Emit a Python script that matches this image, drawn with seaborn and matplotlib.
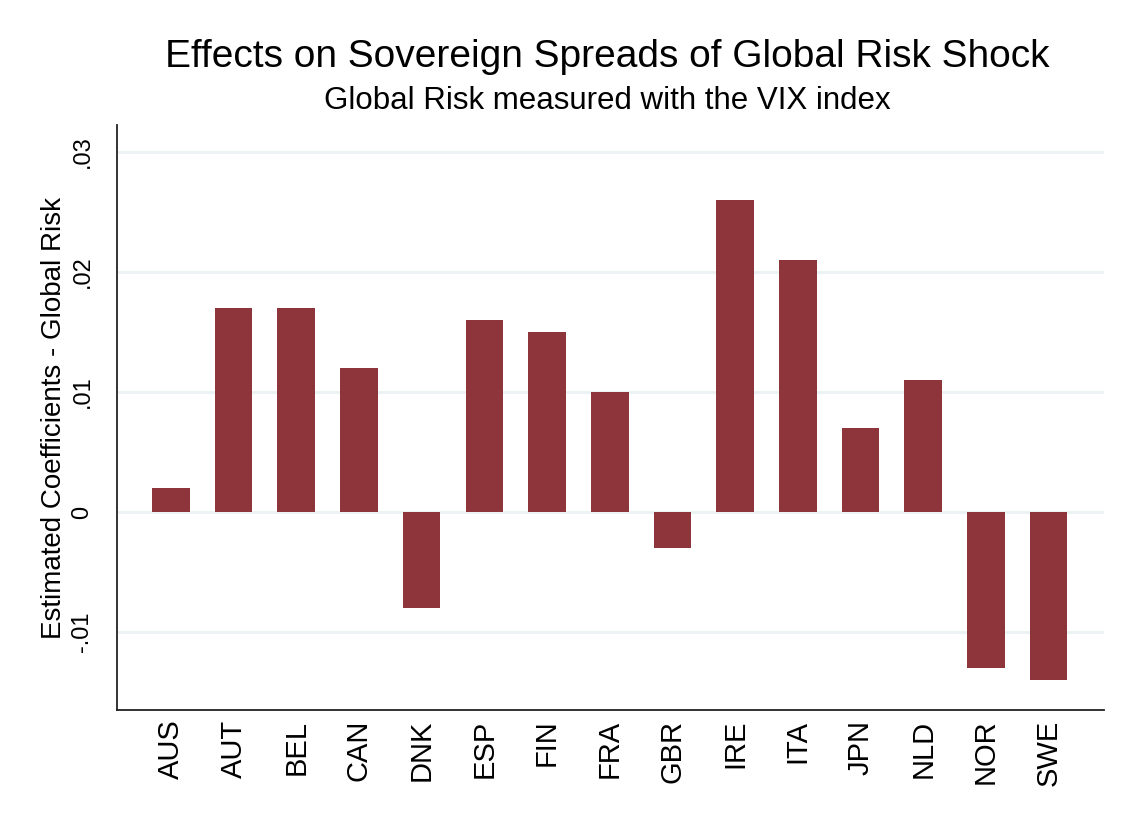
import pandas as pd
import numpy as np
import seaborn as sns
import matplotlib
matplotlib.use("Agg")
import matplotlib.pyplot as plt

countries = ["AUS", "AUT", "BEL", "CAN", "DNK", "ESP", "FIN", "FRA",
             "GBR", "IRE", "ITA", "JPN", "NLD", "NOR", "SWE"]
coefs = [0.002, 0.017, 0.017, 0.012, -0.008, 0.016, 0.015, 0.010,
         -0.003, 0.026, 0.021, 0.007, 0.011, -0.013, -0.014]
yticks = [-0.01, 0, 0.01, 0.02, 0.03]
ytick_labels = ["-.01", "0", ".01", ".02", ".03"]

df = pd.DataFrame({"country": countries, "coef": coefs})

sns.set_style("white")
plt.rcParams['font.family'] = ['Liberation Sans', 'DejaVu Sans']
plt.rcParams['text.color'] = 'black'
plt.rcParams['xtick.color'] = 'black'
plt.rcParams['ytick.color'] = 'black'
plt.rcParams['axes.labelcolor'] = 'black'

fig = plt.figure(figsize=(11.24, 8.19), dpi=100)
ax = fig.add_axes([0.1041, 0.1331, 0.8779, 0.7143])

sns.barplot(data=df, x="country", y="coef", color="#8E353C", saturation=1,
            width=0.6, linewidth=0, ax=ax)

ax.set_ylim(-0.0165, 0.03225)
ax.set_xlim(-0.86, 14.88)
ax.set_yticks(yticks)
ax.set_yticklabels(ytick_labels, rotation=90, va="center", fontsize=17)
ax.yaxis.grid(True, color="#EAF2F3", linewidth=2)
ax.set_axisbelow(True)
ax.tick_params(axis="y", length=9, width=1.2, color="#333333", pad=8)
ax.tick_params(axis="x", length=0, pad=7)
plt.setp(ax.get_xticklabels(), rotation=90, fontsize=21)

for s in ["top", "right"]:
    ax.spines[s].set_visible(False)
for s in ["left", "bottom"]:
    ax.spines[s].set_color("#222222")
    ax.spines[s].set_linewidth(1.3)

ax.set_xlabel("")
ax.set_ylabel("Estimated Coefficients - Global Risk", fontsize=20, labelpad=3)

fig.text(0.5405, 0.930, "Effects on Sovereign Spreads of Global Risk Shock",
         ha="center", va="center", fontsize=28)
fig.text(0.5405, 0.877, "Global Risk measured with the VIX index",
         ha="center", va="center", fontsize=22.5)

fig.savefig("out.png", dpi=100)
